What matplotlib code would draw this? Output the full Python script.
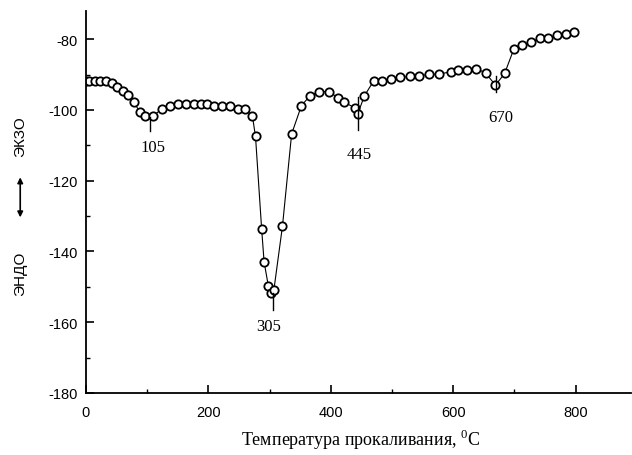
import numpy as np
import matplotlib
matplotlib.use("Agg")
import matplotlib.pyplot as plt
from matplotlib.ticker import MultipleLocator

plt.rcParams['mathtext.fontset'] = 'custom'
plt.rcParams['mathtext.rm'] = 'Liberation Serif'
plt.rcParams['axes.unicode_minus'] = False

# DTA curve
temp = [0, 5, 15, 23, 33, 42, 51, 61, 69, 78, 88, 97, 109, 124, 137, 150, 164,
        177, 188, 197, 210, 222, 235, 248, 260, 272, 277, 287, 291, 298, 303,
        307, 321, 336, 352, 366, 381, 397, 412, 422, 440, 444, 455, 470, 484,
        498, 513, 529, 544, 560, 576, 597, 607, 622, 638, 653, 669, 684, 699,
        713, 727, 741, 755, 770, 784, 798]
signal = [-91.7, -91.7, -91.7, -91.7, -91.7, -92.5, -93.6, -94.7, -95.8, -97.7,
          -100.6, -101.8, -101.8, -99.7, -98.8, -98.4, -98.4, -98.4, -98.4,
          -98.4, -98.8, -98.8, -98.8, -99.7, -99.7, -101.8, -107.5, -133.6,
          -142.9, -149.8, -151.8, -150.9, -132.9, -106.8, -98.8, -96.0, -94.8,
          -94.8, -96.6, -97.8, -99.5, -101.1, -96.0, -91.8, -91.8, -91.3,
          -90.8, -90.5, -90.5, -89.9, -89.9, -89.2, -88.7, -88.7, -88.3, -89.6,
          -93.0, -89.7, -82.8, -81.7, -80.8, -79.8, -79.8, -78.9, -78.4, -78.0]

# peak marks: position, tick top, tick bottom, label position
peak_t = [105, 305, 445, 670]
peak_top = [-102, -151.8, -96.3, -90.3]
peak_bot = [-106, -156.5, -105.6, -95.0]
peak_lab_y = [-110.5, -161, -112.5, -102]
peak_lab_x = [109, 299, 447, 677]

fig = plt.figure(figsize=(6.32, 4.56), dpi=100)
ax = fig.add_axes([0.136, 0.136, 0.862, 0.838])

ax.plot(temp, signal, color='black', lw=0.8, marker='o', ms=6,
        mfc='white', mec='black', mew=1.3)

for t, y0, y1, lx, ly in zip(peak_t, peak_top, peak_bot, peak_lab_x, peak_lab_y):
    ax.plot([t, t], [y0, y1], color='black', lw=1.0)
    ax.text(lx, ly, str(t), ha='center', va='center', fontsize=12,
            family='Liberation Serif')

ax.set_xlim(0, 890)
ax.set_ylim(-180, -72)
ax.xaxis.set_major_locator(MultipleLocator(200))
ax.xaxis.set_minor_locator(MultipleLocator(100))
ax.yaxis.set_major_locator(MultipleLocator(20))
ax.yaxis.set_minor_locator(MultipleLocator(10))
ax.tick_params(which='major', direction='in', length=6, width=1.2,
               labelsize=10.5, pad=6)
ax.tick_params(axis='x', which='major', pad=9)
ax.tick_params(which='minor', direction='in', length=3, width=1.0)
for lab in ax.get_xticklabels() + ax.get_yticklabels():
    lab.set_family('Liberation Sans')

for s in ['top', 'right']:
    ax.spines[s].set_visible(False)
for s in ['left', 'bottom']:
    ax.spines[s].set_linewidth(1.3)

fig.text(0.57, 0.035, 'Температура прокаливания, $^{\\mathrm{0}}$C',
         ha='center', va='center', fontsize=13, family='Liberation Serif')

# y axis label: exo / endo with double arrow
fig.text(0.032, 0.70, 'ЭКЗО', rotation=90, ha='center', va='center',
         fontsize=11, family='Liberation Sans')
fig.text(0.032, 0.40, 'ЭНДО', rotation=90, ha='center', va='center',
         fontsize=11, family='Liberation Sans')
fig.add_artist(matplotlib.patches.FancyArrowPatch(
    (0.032, 0.615), (0.032, 0.515), transform=fig.transFigure,
    arrowstyle='<|-|>', mutation_scale=8, color='black', lw=1.2))

fig.savefig('out.png', dpi=100)
